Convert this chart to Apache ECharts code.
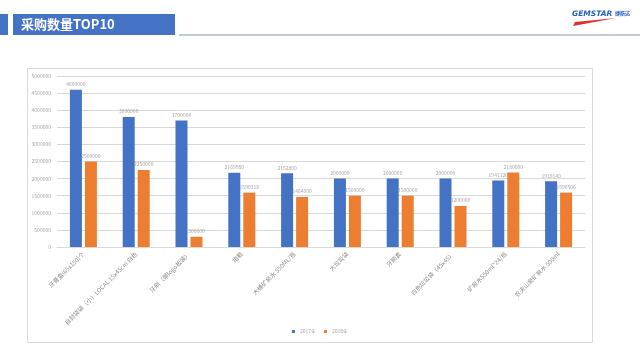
<!DOCTYPE html>
<html><head><meta charset="utf-8">
<script src="https://cdn.jsdelivr.net/npm/echarts@6/dist/echarts.min.js"></script>
<style>html,body{margin:0;padding:0;background:#fff}#c{width:640px;height:360px}</style>
</head><body><div id="c"></div>
<script>
const categories = ['牙膏盒(65x150)个','自封袋袋（小）LOCAL 15x45cm 白色','牙刷（带logo板装）','拖鞋','大桶矿泉水 550ML/瓶','大垃圾袋','牙刷套','白色垃圾袋（45x45）','矿泉水550ml*24/瓶','农夫山泉矿泉水 500ml'];
const values2017 = [4600000,3800000,3700000,2169980,2152800,2000000,2000000,2000000,1941120,1919140];
const values2018 = [2500000,2250000,300000,1590318,1464000,1500000,1500000,1200000,2180000,1590506];
const yTicks = [0,500000,1000000,1500000,2000000,2500000,3000000,3500000,4000000,4500000,5000000];
const font = '"Noto Sans CJK SC","Noto Sans",sans-serif';
const chart = echarts.init(document.getElementById('c'));
const lbl = {show:true,position:'top',fontSize:5,color:'#a6a6a6',fontFamily:font,distance:3};
chart.setOption({
  animation:false,
  graphic:[
    {type:'rect',shape:{x:0,y:14,width:8,height:21},style:{fill:'#4472C4'}},
    {type:'rect',shape:{x:13,y:14,width:162,height:21},style:{fill:'#4472C4'}},
    {type:'text',x:21,y:18,style:{text:'采购数量TOP10',fill:'#fff',font:'bold 13px '+font}},
    {type:'line',shape:{x1:179,y1:35,x2:640,y2:35},style:{stroke:'#8497B0',lineWidth:1}},
    {type:'text',x:572,y:10,style:{text:'GEMSTAR',fill:'#1F5FBF',font:'italic bold 7.5px "DejaVu Sans",sans-serif'}},
    {type:'text',x:615,y:11,style:{text:'捷斯达',fill:'#1F5FBF',font:'bold 5px '+font}},
    {type:'polygon',shape:{points:[[573,26],[616,18],[575,22]]},style:{fill:'#E03030'}},
    {type:'rect',shape:{x:27.5,y:68.5,width:565,height:274},style:{fill:'none',stroke:'#d9d9d9',lineWidth:1}}
  ],
  legend:{bottom:21,left:'center',itemWidth:3,itemHeight:3,itemGap:8,icon:'rect',
    textStyle:{fontSize:5,color:'#a6a6a6',fontFamily:font},data:['2017年','2018年']},
  grid:{left:57,right:55,top:76,bottom:113},
  xAxis:{type:'category',data:categories,
    axisLine:{lineStyle:{color:'#d9d9d9'}},axisTick:{show:false},
    axisLabel:{rotate:45,interval:0,fontSize:6,color:'#8c8c8c',fontFamily:font,margin:6}},
  yAxis:{type:'value',min:yTicks[0],max:yTicks[yTicks.length-1],interval:yTicks[1]-yTicks[0],
    axisLine:{show:false},axisTick:{show:false},
    splitLine:{lineStyle:{color:'#d9d9d9'}},
    axisLabel:{fontSize:5,color:'#a6a6a6',fontFamily:font,margin:6,formatter:v=>String(v)}},
  series:[
    {name:'2017年',type:'bar',data:values2017,barWidth:12,barGap:'25%',itemStyle:{color:'#4472C4'},label:lbl},
    {name:'2018年',type:'bar',data:values2018,barWidth:12,itemStyle:{color:'#ED7D31'},label:lbl}
  ]
});
</script></body></html>
